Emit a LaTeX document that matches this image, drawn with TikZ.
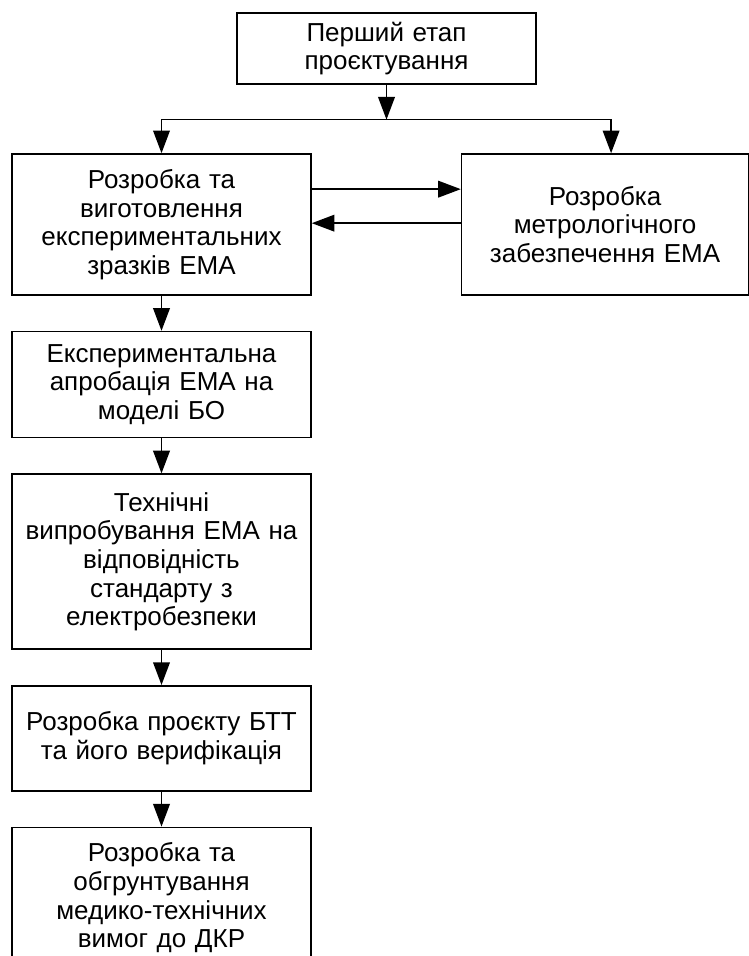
\documentclass[tikz,border=0pt]{standalone}
\usepackage{fontspec}
\setmainfont{Liberation Sans}
\usetikzlibrary{positioning,arrows.meta}
\tikzset{
    process/.style = {rectangle, minimum width=224.25pt, text width=218pt, align=center, draw=black, line width=1.2pt, inner sep=0pt, font=\fontsize{19.5}{21.5}\selectfont},
    arrow/.style = {line width=1.2pt, -{Triangle[length=17pt,width=12.5pt]}}
}
\begin{document}
\begin{tikzpicture}[x=0.75pt, y=-0.75pt, node distance=26.25pt]
\useasboundingbox (0,0) rectangle (749,956);
\node (start) [process, minimum height=53pt] at (386.5,48.5) {Перший етап\\проєктування};
\node (develop) [process, minimum height=105.75pt] at (161.5,224.5) {Розробка та\\виготовлення\\експериментальних\\зразків ЕМА};
\node (metro) [process, minimum width=215.25pt, text width=209pt, minimum height=105.75pt, right=111.75pt of develop] {Розробка\\метрологічного\\забезпечення ЕМА};
\node (approb) [process, minimum height=79.5pt, below=of develop] {Експериментальна\\апробація ЕМА на\\моделі БО};
\node (tests) [process, minimum height=131.25pt, below=of approb] {Технічні\\випробування ЕМА на\\відповідність\\стандарту з\\електробезпеки};
\node (project) [process, minimum height=78.75pt, below=of tests] {Розробка проєкту БТТ\\та його верифікація};
\node (reqs) [process, minimum height=105.75pt, below=of project] {Розробка та\\обгрунтування\\медико-технічних\\вимог до ДКР};
\coordinate (split) at ([yshift=-26.25pt]start.south);

\draw [arrow] (start.south) -- (split);
\draw [arrow] (split) -| (develop.north);
\draw [arrow] (split) -| ([xshift=4.5pt]metro.north);
\draw [arrow] ([yshift=26.5pt]develop.east) -- ([yshift=26.5pt]metro.west);
\draw [arrow] ([yshift=1pt]metro.west) -- ([yshift=1pt]develop.east);
\draw [arrow] (develop) -- (approb);
\draw [arrow] (approb) -- (tests);
\draw [arrow] (tests) -- (project);
\draw [arrow] (project) -- (reqs);
\end{tikzpicture}
\end{document}
